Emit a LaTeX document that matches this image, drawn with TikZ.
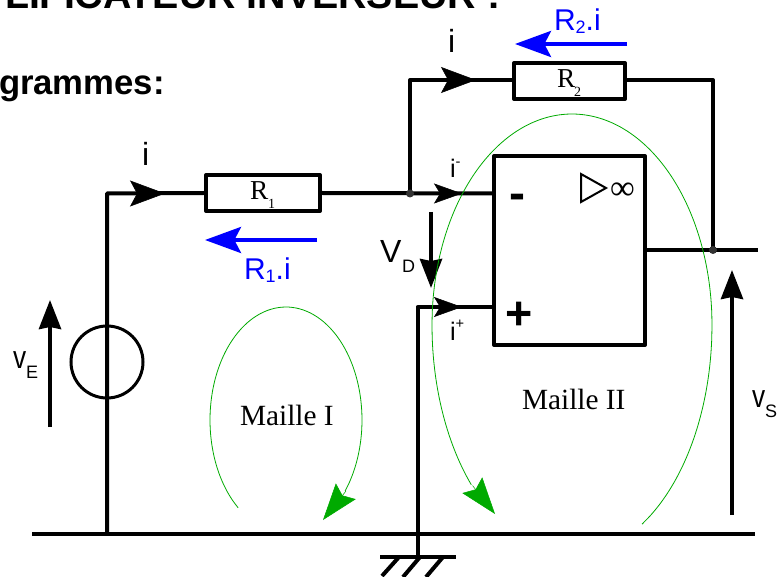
\documentclass[tikz,border=0pt]{standalone}
\usepackage{fontspec}
\setmainfont{Liberation Serif}
\setsansfont{Liberation Sans}
\usetikzlibrary{arrows.meta}
\definecolor{loopgreen}{HTML}{00AA00}
\newcommand{\fsz}[1]{\fontsize{#1}{#1}\selectfont}
\newcommand{\lowsub}[2]{\raisebox{#1}{\fsz{13.5}#2}}
\newcommand{\narrowv}{\scalebox{.82}[1]{v}}
\tikzset{
  wire/.style={line width=3pt,line join=round},
  part/.style={draw,line width=3pt,line join=round,fill=white,inner sep=0pt},
  txt/.style={inner sep=0pt,outer sep=0pt,anchor=base west},
  sans/.style={txt,font=\sffamily\fsz{24}},
  small/.style={txt,font=\sffamily\fsz{19}},
  serif/.style={txt,font=\fsz{22}},
  rlab/.style={txt,font=\fsz{20.5}},
  rsub/.style={txt,font=\fsz{10.5}},
  head/.style={txt,font=\sffamily\bfseries\fsz{26}},
  bluelab/.style={txt,font=\sffamily\fsz{22.5},text=blue},
  dot/.style={circle,fill=black!80,inner sep=0pt,minimum size=6pt},
  flow/.style={-{Stealth[length=26.25pt,width=19.5pt,inset=5.25pt]}},
  flowsmall/.style={-{Stealth[length=21pt,width=15pt,inset=4.5pt]}},
  volt/.style={line width=3pt,-{Stealth[length=21.75pt,width=16.5pt,inset=1.5pt]}},
  blue arrow/.style={draw=blue,line width=3pt,-{Stealth[length=27pt,width=19.5pt,inset=5pt]}},
  loop/.style={draw=loopgreen,line width=.6pt},
  loophead/.style={loopgreen,-{Stealth[length=27.5pt,width=19pt,inset=4pt]}},
}
\begin{document}
\begin{tikzpicture}[x=.75pt,y=-.75pt]
\useasboundingbox (0,0) rectangle (778,577);
\clip (0,0) rectangle (778,577);
% coordinates
\coordinate (tl) at (107,193.5);
\coordinate (bl) at (107,533.5);
\coordinate (busL) at (32,533.5);
\coordinate (busR) at (755,533.5);
\coordinate (J1) at (410,193.5);
\coordinate (fbT) at (410,80);
\coordinate (frT) at (713,80);
\coordinate (J2) at (713,250);
\coordinate (out) at (758,250);
\coordinate (pin) at (417.5,307);
\coordinate (gnd) at (417.5,556.5);
\coordinate (gL) at (380,556.5);
\coordinate (gR) at (456,556.5);
\coordinate (h1a) at (399,557); \coordinate (h1b) at (382,576);
\coordinate (h2a) at (420,557); \coordinate (h2b) at (403,577);
\coordinate (h3a) at (443,557); \coordinate (h3b) at (426,577);
% parts
\node[part,minimum width=85.5pt,minimum height=27pt] (R1) at (263,193) {};
\node[part,minimum width=83.25pt,minimum height=27pt] (R2) at (569.5,81) {};
\node[part,minimum width=113.25pt,minimum height=141.75pt] (box) at (569.5,250.5) {};
\node[draw,circle,line width=2.25pt,inner sep=0pt,minimum size=54pt] (src) at (107,362) {};
% wires
\draw[wire] (bl) -- (tl) -- (R1.west);
\draw[wire] (R1.east) -- (box.west |- J1);
\draw[wire] (J1) -- (fbT) -- (R2.west |- fbT);
\draw[wire] (R2.east |- frT) -- (frT) -- (J2);
\draw[wire] (box.east |- J2) -- (out);
\draw[wire] (box.west |- pin) -- (pin) -- (gnd);
\draw[wire] (busL) -- (busR);
\draw[wire] (gL) -- (gR);
\draw[wire] (h1a) -- (h1b);
\draw[wire] (h2a) -- (h2b);
\draw[wire] (h3a) -- (h3b);
\node[dot] (d1) at (J1) {};
\node[dot] (d2) at (J2) {};
% current arrows
\coordinate (a1s) at (125,193.5); \coordinate (a1t) at (165,193.5);
\coordinate (a2s) at (430,80); \coordinate (a2t) at (476,80);
\coordinate (a3s) at (430,193.5); \coordinate (a3t) at (462,193.5);
\coordinate (a4s) at (430,307); \coordinate (a4t) at (462,307);
\draw[flow] (a1s) -- (a1t);
\draw[flow] (a2s) -- (a2t);
\draw[flowsmall] (a3s) -- (a3t);
\draw[flowsmall] (a4s) -- (a4t);
% voltage arrows
\coordinate (vEb) at (50,427); \coordinate (vEt) at (50,300);
\coordinate (vSb) at (732,515); \coordinate (vSt) at (732,270);
\coordinate (vDa) at (431,212); \coordinate (vDb) at (431,288);
\draw[volt] (vEb) -- (vEt);
\draw[volt] (vSb) -- (vSt);
\draw[volt] (vDa) -- (vDb);
\coordinate (b1s) at (317,240); \coordinate (b1t) at (205,240);
\coordinate (b2s) at (627,44); \coordinate (b2t) at (515,44);
\draw[blue arrow] (b1s) -- (b1t);
\draw[blue arrow] (b2s) -- (b2t);
% op-amp symbol
\coordinate (t1) at (581,174); \coordinate (t2) at (606,188); \coordinate (t3) at (581,202);
\draw[line width=1.5pt,line join=miter] (t1) -- (t2) -- (t3) -- cycle;
% loops
\draw[loop] plot[smooth,samples=50,domain=231:-39] ({286+76*cos(\x)},{420-113*sin(\x)});
\coordinate (l1s) at (346,491); \coordinate (l1t) at (323,520);
\draw[loophead] (l1s) -- (l1t);
\draw[loop] plot[smooth,samples=15,domain=-60:0] ({572+140*cos(\x)},{325-230*sin(\x)})
  -- plot[smooth,samples=50,domain=0:180] ({572+140*cos(\x)},{325-211*sin(\x)})
  -- plot[smooth,samples=15,domain=180:224] ({572+140*cos(\x)},{325-230*sin(\x)});
\coordinate (l2s) at (472.5,485.5); \coordinate (l2t) at (495,514);
\draw[loophead] (l2s) -- (l2t);
% text
\node[head,font=\sffamily\bfseries\fsz{29.5}] (title) at (5,9) {LIFICATEUR INVERSEUR :};
\node[head] (sub) at (-1,95) {grammes:};
\node[sans] (i1) at (142,166) {i};
\node[sans] (i2) at (448,53) {i};
\node[bluelab] (ub1) at (244,280) {R\lowsub{-2pt}{1}.i};
\node[bluelab] (ub2) at (554,31) {R\lowsub{-2pt}{2}.i};
\node[small] (im) at (450,178) {i\raisebox{.45em}{\fsz{11}-}};
\node[small] (ip) at (450,340) {i\raisebox{.45em}{\fsz{11}+}};
\node[sans] (vd) at (380,263) {V\hspace{.5pt}\lowsub{-7.5pt}{D}};
\node[sans] (ve) at (13,368) {\narrowv\lowsub{-7.5pt}{E}};
\node[sans] (vs) at (752,407) {\narrowv\lowsub{-8pt}{S}};
\node[rlab] (r1t) at (250,200) {R};
\node[rsub] (r1s) at (268,209) {1};
\node[rlab] (r2t) at (557,88) {R};
\node[rsub] (r2s) at (574,97) {2};
\node[serif] (m1) at (240,425) {Maille I};
\node[serif] (m2) at (522,409) {Maille II};
\node[txt,font=\sffamily\bfseries\fsz{36}] (minus) at (509,210) {-};
\node[txt,font=\sffamily\bfseries\fsz{35}] (plus) at (505,329.5) {+};
\node[txt,font=\fsz{26}] (inf) at (610,200) {∞};
\end{tikzpicture}
\end{document}
